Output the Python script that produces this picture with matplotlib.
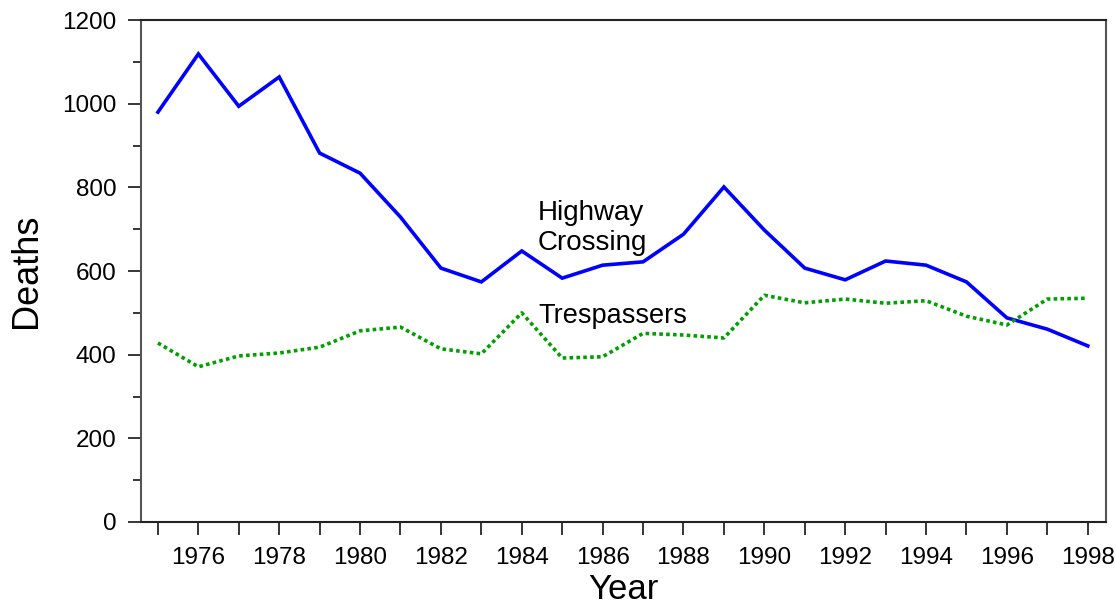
import matplotlib
matplotlib.use("Agg")
import matplotlib.pyplot as plt
from matplotlib.ticker import MultipleLocator

years = list(range(1975, 1999))
highway = [980, 1119, 994, 1064, 882, 834, 729, 607, 574, 648, 583, 614, 622, 688,
           801, 698, 607, 579, 624, 614, 574, 488, 461, 421]
trespassers = [428, 371, 397, 404, 418, 457, 466, 414, 402, 500, 392, 395, 451, 447,
               440, 542, 524, 533, 523, 529, 492, 471, 533, 535]

plt.rcParams['font.family'] = ['Liberation Sans', 'DejaVu Sans']

fig = plt.figure(figsize=(11.16, 6.09), dpi=100)
ax = fig.add_axes([0.1263, 0.1429, 0.991 - 0.1263, 0.967 - 0.1429])

ax.plot(years, highway, color='#0000ff', lw=2.6, solid_joinstyle='miter')
ax.plot(years, trespassers, color='#00a000', lw=2.6, linestyle=(0, (1.0, 0.9)))

ax.set_xlim(1974.58, 1998.45)
ax.set_ylim(0, 1200)
ax.xaxis.set_major_locator(MultipleLocator(2))
ax.xaxis.set_minor_locator(MultipleLocator(1))
ax.yaxis.set_major_locator(MultipleLocator(200))
ax.yaxis.set_minor_locator(MultipleLocator(100))

ax.tick_params(axis='x', which='both', direction='out', length=9, width=1.1,
               labelsize=17.5, pad=9)
ax.tick_params(axis='y', which='major', direction='out', length=9.5, width=1.1,
               labelsize=17.5, pad=8)
ax.tick_params(axis='y', which='minor', direction='out', length=6, width=1.1)

for name, s in ax.spines.items():
    s.set_color('#222222' if name in ('top', 'bottom') else '#555555')
    s.set_linewidth(1.5)

ax.set_ylabel('Deaths', fontsize=26, labelpad=13)
ax.set_xlabel('Year', fontsize=25, labelpad=3)

ax.text(1984.4, 722, 'Highway', fontsize=20, ha='left', va='baseline')
ax.text(1984.4, 650, 'Crossing', fontsize=20, ha='left', va='baseline')
ax.text(1984.4, 476, 'Trespassers', fontsize=19.5, ha='left', va='baseline')

fig.savefig('out.png', dpi=100)
